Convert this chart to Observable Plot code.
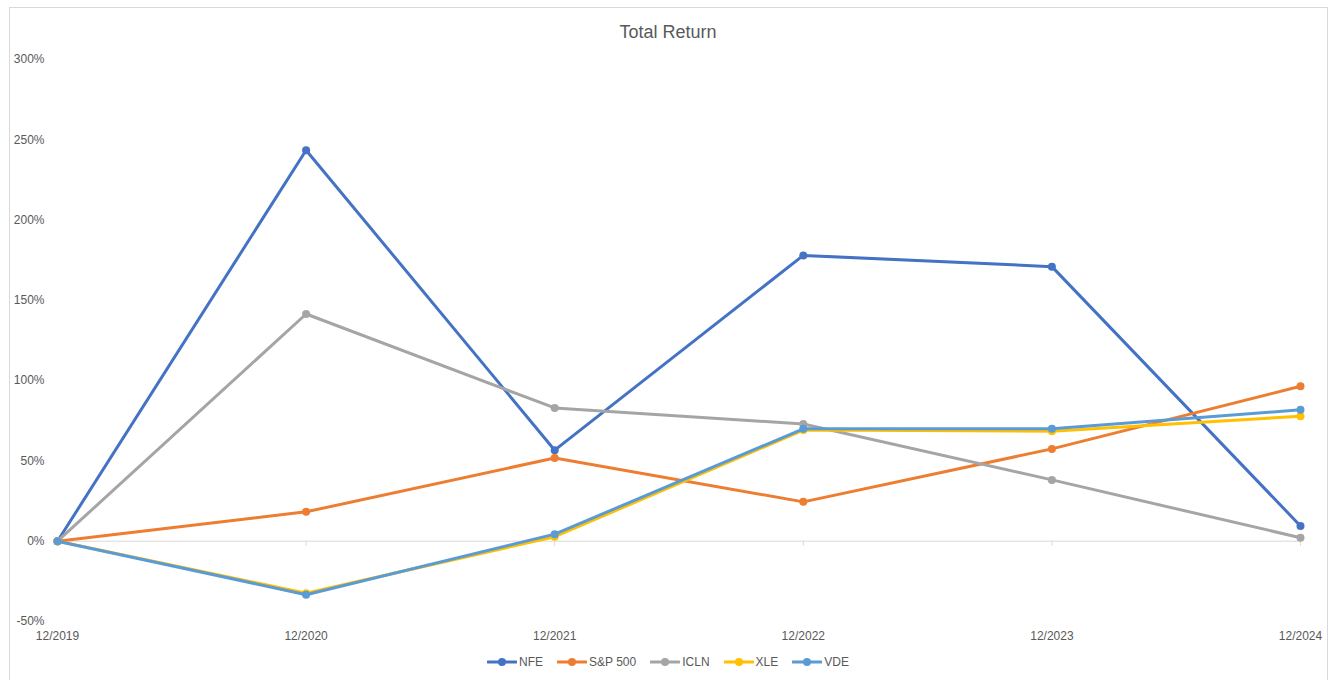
<!DOCTYPE html>
<html>
<head>
<meta charset="utf-8">
<script src="https://cdn.jsdelivr.net/npm/d3@7"></script>
<script src="https://cdn.jsdelivr.net/npm/@observablehq/plot@0.6"></script>
<style>
  html, body { margin: 0; padding: 0; background: #fff; }
  #wrap { position: relative; width: 1330px; height: 680px; overflow: hidden; font-family: "Liberation Sans", Arial, sans-serif; }
  #frame { position: absolute; left: 9px; top: 7px; width: 1319px; height: 690px; border: 1px solid #d9d9d9; box-sizing: border-box; }
  #title { position: absolute; left: 0; width: 1336px; top: 22px; text-align: center; font-size: 18px; color: #595959; }
  #chart { position: absolute; left: 0; top: 0; }
  #legend { position: absolute; left: 0; width: 1336px; top: 655px; display: flex; justify-content: center; gap: 14px; font-size: 12px; color: #595959; }
  .item { display: flex; align-items: center; gap: 2px; }
</style>
</head>
<body>
<div id="wrap">
  <div id="frame"></div>
  <div id="title">Total Return</div>
  <div id="chart"></div>
  <div id="legend"></div>
</div>
<script>
const periods = ["12/2019", "12/2020", "12/2021", "12/2022", "12/2023", "12/2024"];
const seriesNames = ["NFE", "S&P 500", "ICLN", "XLE", "VDE"];
const seriesColors = ["#4472C4", "#ED7D31", "#A5A5A5", "#FFC000", "#5B9BD5"];
const nfe   = [0, 243.5, 56.7, 178.0, 171.0, 9.5];
const sp500 = [0, 18.3, 51.8, 24.5, 57.5, 96.5];
const icln  = [0, 141.5, 83.0, 73.0, 38.2, 2.2];
const xle   = [0, -32.4, 2.8, 69.2, 68.5, 77.8];
const vde   = [0, -33.3, 4.4, 70.0, 70.0, 81.8];
const yTicks = [-50, 0, 50, 100, 150, 200, 250, 300];

const seriesValues = [nfe, sp500, icln, xle, vde];
const rows = [];
seriesNames.forEach((name, i) => {
  periods.forEach((p, j) => rows.push({series: name, period: p, value: seriesValues[i][j]}));
});

const marks = [
  Plot.ruleY([0], {stroke: "#d9d9d9", strokeWidth: 1}),
  Plot.ruleX(periods, {x: d => d, y1: 0, y2: -3.2, stroke: "#d9d9d9", strokeWidth: 1})
];
seriesNames.forEach((name, i) => {
  const data = rows.filter(r => r.series === name);
  marks.push(Plot.line(data, {x: "period", y: "value", stroke: seriesColors[i], strokeWidth: 3, strokeLinejoin: "round", strokeLinecap: "round"}));
  marks.push(Plot.dot(data, {x: "period", y: "value", fill: seriesColors[i], r: 4, stroke: "none"}));
});

const chart = Plot.plot({
  width: 1330,
  height: 680,
  marginLeft: 57,
  marginRight: 30,
  marginTop: 59,
  marginBottom: 59,
  style: {fontFamily: "Liberation Sans, Arial, sans-serif", fontSize: "12px", color: "#595959", background: "transparent", overflow: "visible"},
  x: {type: "point", domain: periods, padding: 0, round: false, label: null, tickSize: 0, tickPadding: 10},
  y: {domain: [-50, 300], ticks: yTicks, tickFormat: d => d + "%", label: null, tickSize: 0, tickPadding: 13},
  marks
});
document.getElementById("chart").appendChild(chart);

const legend = document.getElementById("legend");
seriesNames.forEach((name, i) => {
  const item = document.createElement("div");
  item.className = "item";
  item.innerHTML = `<svg width="30" height="10"><line x1="1" y1="5" x2="29" y2="5" stroke="${seriesColors[i]}" stroke-width="3" stroke-linecap="round"/><circle cx="15" cy="5" r="4" fill="${seriesColors[i]}"/></svg><span></span>`;
  item.querySelector("span").textContent = name;
  legend.appendChild(item);
});
</script>
</body>
</html>
